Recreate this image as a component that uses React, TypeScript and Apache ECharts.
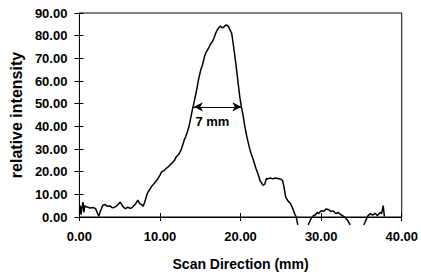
import React, { useEffect, useRef } from "react";
import * as echarts from "echarts";

const xs: number[] = [
  0.0, 0.1, 0.2, 0.3, 0.45, 0.55, 0.65, 0.8, 1.0, 1.3, 1.7, 2.0, 2.2, 2.4, 2.6, 2.9, 3.2, 3.46, 3.8, 4.0,
  4.24, 4.5, 4.8, 5.06, 5.3, 5.5, 5.7, 6.0, 6.3, 6.5, 6.8, 7.0, 7.25, 7.5, 7.7, 7.9, 8.1, 8.3, 8.5, 8.7,
  8.97, 9.2, 9.5, 9.75, 10.0, 10.2, 10.5, 10.8, 11.0, 11.3, 11.5, 11.8, 12.0, 12.2, 12.4, 12.6, 12.8, 13.0, 13.2, 13.4,
  13.6, 13.8, 14.0, 14.2, 14.4, 14.6, 14.8, 15.05, 15.3, 15.5, 15.7, 15.9, 16.1, 16.3, 16.5, 16.7, 16.9, 17.1, 17.3, 17.5,
  17.7, 17.9, 18.1, 18.3, 18.5, 18.7, 18.9, 19.1, 19.3, 19.5, 19.7, 19.9, 20.1, 20.3, 20.5, 20.7, 20.9, 21.1, 21.3, 21.6,
  21.9, 22.2, 22.4, 22.6, 22.8, 23.0, 23.2, 23.4, 23.7, 24.0, 24.3, 24.6, 24.9, 25.2, 25.4, 25.6, 25.9, 26.2, 26.5, 26.7,
  26.9, 27.1, 27.8,
  28.4, 28.7, 29.0, 29.3, 29.5, 29.7, 30.0, 30.3, 30.6, 30.9, 31.2, 31.5, 31.8, 32.1, 32.4, 32.6, 33.0, 33.3, 33.6, 34.5,
  35.3, 35.6, 35.8, 36.1, 36.4, 36.7, 37.0, 37.3, 37.5, 37.7, 37.85,
];

const ys: (number | null)[] = [
  2, 5, 1, 4, 6.5, 2, 5, 4.5, 4.4, 4, 4.2, 3.7, 2, 0.3, 2.5, 5.2, 5.5, 4.7, 4.9, 4.2,
  4.1, 4.6, 5.5, 6.6, 5.2, 4.2, 3.7, 4.3, 3.8, 4.1, 5.2, 6.0, 7.4, 5.8, 5.5, 4.7, 6.5, 9, 11, 12,
  13.6, 14.5, 15.8, 17, 18.5, 19.9, 20.5, 21.5, 22.1, 23.2, 23.8, 25, 26.5, 27.2, 28, 29.5, 31.5, 33.9, 35.5, 37.6,
  40, 43.5, 47, 50.1, 53.5, 57, 61, 64.8, 67.5, 70.5, 72.5, 73.7, 75, 76.5, 77.3, 79, 81, 82.5, 83.5, 84.3,
  83.5, 83.7, 84.5, 84.7, 84, 82.5, 81, 76, 70.7, 65, 59, 53, 48.6, 45, 40.5, 36.8, 33.5, 30.5, 28, 25,
  21.5, 18.5, 16.2, 15, 14, 14.5, 17, 16.8, 17.2, 16.8, 17.2, 17, 16.8, 16.2, 13, 8.8, 7, 5.9, 3.5, 1.5,
  0, -3.5, null,
  -3.5, -1, 0.5, 1, 2, 1.5, 2.8, 2.5, 3.5, 3.3, 2.5, 2.7, 1.5, 2, 1.2, 0.7, -0.3, -1.5, -3.5, null,
  -3.5, -1, 0.5, 1.5, 0.8, 1.6, 0.6, 2.0, 1.5, 5, 0.2,
];

const xTicks = { min: 0, max: 40, interval: 10 };
const yTicks = { min: 0, max: 90, interval: 10 };
const widthArrow: number[][] = [
  [14.2, 48.6],
  [20.1, 48.6],
];
const widthLabel = "7 mm";
const widthLabelPos: number[] = [16.5, 42];

const FONT = "'Liberation Sans', Arial, sans-serif";

export default function App() {
  const ref = useRef<HTMLDivElement>(null);
  useEffect(() => {
    if (!ref.current) return;
    const chart = echarts.init(ref.current, null, { renderer: "svg" });
    const data = xs.map((x, i) => [x, ys[i] === null ? "-" : ys[i]]);
    const labelStyle = { color: "#000", fontFamily: FONT, fontWeight: "bold" as const, fontSize: 13 };
    chart.setOption({
      animation: false,
      backgroundColor: "#fff",
      grid: {
        left: 77,
        right: 17,
        top: 13,
        bottom: 59,
        show: true,
        borderColor: "#000",
        borderWidth: 1,
      },
      xAxis: [
        {
          type: "value",
          ...xTicks,
          position: "bottom",
          name: "Scan Direction (mm)",
          nameLocation: "middle",
          nameGap: 40,
          nameTextStyle: { ...labelStyle, fontSize: 14 },
          axisLine: { show: true, onZero: false, lineStyle: { color: "#000", width: 1 } },
          axisTick: { show: true, inside: false, length: 4, lineStyle: { color: "#000" } },
          axisLabel: { ...labelStyle, margin: 13, formatter: (v: number) => v.toFixed(2) },
          splitLine: { show: false },
        },
        {
          type: "value",
          ...xTicks,
          position: "bottom",
          axisLine: { show: false, onZero: false },
          axisTick: { show: true, inside: true, length: 4, lineStyle: { color: "#000" } },
          axisLabel: { show: false },
          splitLine: { show: false },
        },
      ],
      yAxis: [
        {
          type: "value",
          ...yTicks,
          position: "left",
          name: "relative intensity",
          nameLocation: "middle",
          nameGap: 52,
          nameTextStyle: { ...labelStyle, fontSize: 16 },
          axisLine: { show: true, onZero: false, lineStyle: { color: "#000", width: 1 } },
          axisTick: { show: true, inside: false, length: 5, lineStyle: { color: "#000" } },
          axisLabel: { ...labelStyle, margin: 12, formatter: (v: number) => v.toFixed(2) },
          splitLine: { show: false },
        },
        {
          type: "value",
          ...yTicks,
          position: "left",
          axisLine: { show: false, onZero: false },
          axisTick: { show: true, inside: true, length: 4, lineStyle: { color: "#000" } },
          axisLabel: { show: false },
          splitLine: { show: false },
        },
      ],
      series: [
        {
          type: "line",
          data,
          showSymbol: false,
          symbol: "none",
          clip: false,
          connectNulls: false,
          lineStyle: { color: "#000", width: 1.5 },
          markLine: {
            silent: true,
            symbol: ["arrow", "arrow"],
            symbolSize: [7, 9],
            label: { show: false },
            lineStyle: { color: "#000", width: 1.2, type: "solid" },
            data: [[{ coord: widthArrow[0] }, { coord: widthArrow[1] }]],
          },
        },
        {
          type: "scatter",
          data: [widthLabelPos],
          symbolSize: 0,
          itemStyle: { opacity: 1, color: "#000" },
          label: {
            show: true,
            position: "inside",
            formatter: widthLabel,
            ...labelStyle,
            opacity: 1,
            textBorderWidth: 0,
          },
        },
      ],
    });
    return () => chart.dispose();
  }, []);
  return (
    <div
      ref={ref}
      style={{ position: "fixed", left: 0, top: 0, width: 421, height: 276, background: "#fff" }}
    />
  );
}
